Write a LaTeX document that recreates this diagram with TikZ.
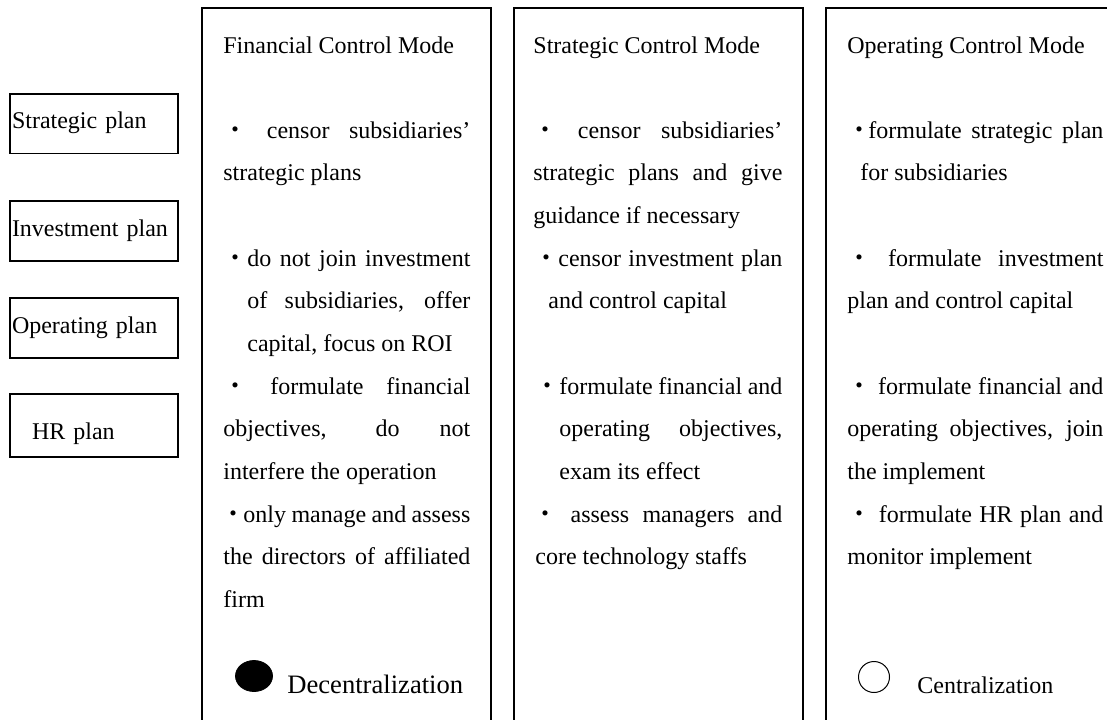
\documentclass[tikz,border=0pt]{standalone}
\usepackage{fontspec}
\setmainfont{Liberation Serif}
\newfontfamily\cjkf{Noto Sans CJK SC}
\usetikzlibrary{shapes.geometric}
\newcommand\bul[1][12pt]{\makebox[#1][c]{\cjkf ・}}
\newcommand\LJ[2]{\noindent\hspace*{#1}\makebox[\dimexpr\linewidth-#1\relax][s]{#2}\par}
\newcommand\LR[2]{\noindent\hspace*{#1}#2\par}
\newcommand\LB{\noindent\mbox{}\par}
\newcommand\coltext[2]{\parbox[t]{#1}{\fontsize{12}{21.33}\selectfont\parindent=0pt\parskip=0pt #2}}
\tikzset{
  planbox/.style={draw, line width=0.8pt, minimum width=84pt, text width=82pt, inner xsep=1pt, inner ysep=0pt, align=left, font=\fontsize{12}{14}\selectfont, text height=8pt, text depth=3pt},
  colline/.style={draw, line width=0.8pt},
  coltxt/.style={anchor=base west, inner sep=0pt},
  modelabel/.style={anchor=base west, inner sep=0pt}
}
\begin{document}
\begin{tikzpicture}[x=0.5pt, y=-0.5pt]
\useasboundingbox (0,0) rectangle (1107,719);
\clip (0,0) rectangle (1107,719);
% left plan boxes
\node[planbox, minimum height=29.7pt] (sp) at (94,123.7) {Strategic plan};
\node[planbox, minimum height=30pt] (ip) at (94,231) {Investment plan};
\node[planbox, minimum height=30pt] (op) at (94,328) {Operating plan};
\node[planbox, minimum height=31.5pt, text height=17pt] (hr) at (94,425.7) {\hspace*{10pt}HR plan};
% columns
\coordinate (c1a) at (202,740); \coordinate (c1b) at (491,8); \coordinate (c1c) at (491,740);
\coordinate (c2a) at (514,740); \coordinate (c2b) at (803,8); \coordinate (c2c) at (803,740);
\coordinate (c3a) at (826,740); \coordinate (c3b) at (1130,8); \coordinate (c3c) at (1130,740);
\draw[colline] (c1a) |- (c1b) -- (c1c);
\draw[colline] (c2a) |- (c2b) -- (c2c);
\draw[colline] (c3a) |- (c3b) -- (c3c);
% column 1
\node[coltxt] (fin) at (223,53) {\coltext{123.5pt}{%
\LR{0pt}{Financial Control Mode}
\LB
\LJ{0pt}{\bul\ censor subsidiaries’}
\LR{0pt}{strategic plans}
\LB
\LJ{0pt}{\bul do not join investment}
\LJ{12pt}{of subsidiaries, offer}
\LR{12pt}{capital, focus on ROI}
\LJ{0pt}{\bul\ formulate financial}
\LJ{0pt}{objectives, do not}
\LR{0pt}{interfere the operation}
\LJ{0pt}{\bul[10pt]only manage and assess}
\LJ{0pt}{the directors of affiliated}
\LR{0pt}{firm}}};
% column 2
\node[coltxt] (str) at (533,53) {\coltext{124.5pt}{%
\LR{0pt}{Strategic Control Mode}
\LB
\LJ{0pt}{\bul\ censor subsidiaries’}
\LJ{0pt}{strategic plans and give}
\LR{0pt}{guidance if necessary}
\LJ{0.5pt}{\bul censor investment plan}
\LR{7.5pt}{and control capital}
\LB
\LJ{1pt}{\bul formulate financial and}
\LJ{13pt}{operating objectives,}
\LR{13pt}{exam its effect}
\LJ{0pt}{\bul\ assess managers and}
\LR{1pt}{core technology staffs}}};
% column 3
\node[coltxt] (opm) at (847,53) {\coltext{128pt}{%
\LR{0pt}{Operating Control Mode}
\LB
\LJ{1.5pt}{\bul[9pt]formulate strategic plan}
\LR{6.5pt}{for subsidiaries}
\LB
\LJ{0pt}{\bul\ formulate investment}
\LR{0pt}{plan and control capital}
\LB
\LJ{0pt}{\bul\ formulate financial and}
\LJ{0pt}{operating objectives, join}
\LR{0pt}{the implement}
\LJ{0pt}{\bul\ formulate HR plan and}
\LR{0pt}{monitor implement}}};
% decentralization / centralization
\node[ellipse, draw, fill=black, minimum width=18.5pt, minimum height=15.5pt, inner sep=0pt] (dec) at (254,676) {};
\node[modelabel, font=\fontsize{13.3}{16}\selectfont] (dect) at (287,693) {Decentralization};
\node[circle, draw, line width=0.5pt, minimum size=15.5pt, inner sep=0pt] (cen) at (874,677) {};
\node[modelabel, font=\fontsize{12}{14}\selectfont] (cent) at (917,693) {Centralization};
\end{tikzpicture}
\end{document}
